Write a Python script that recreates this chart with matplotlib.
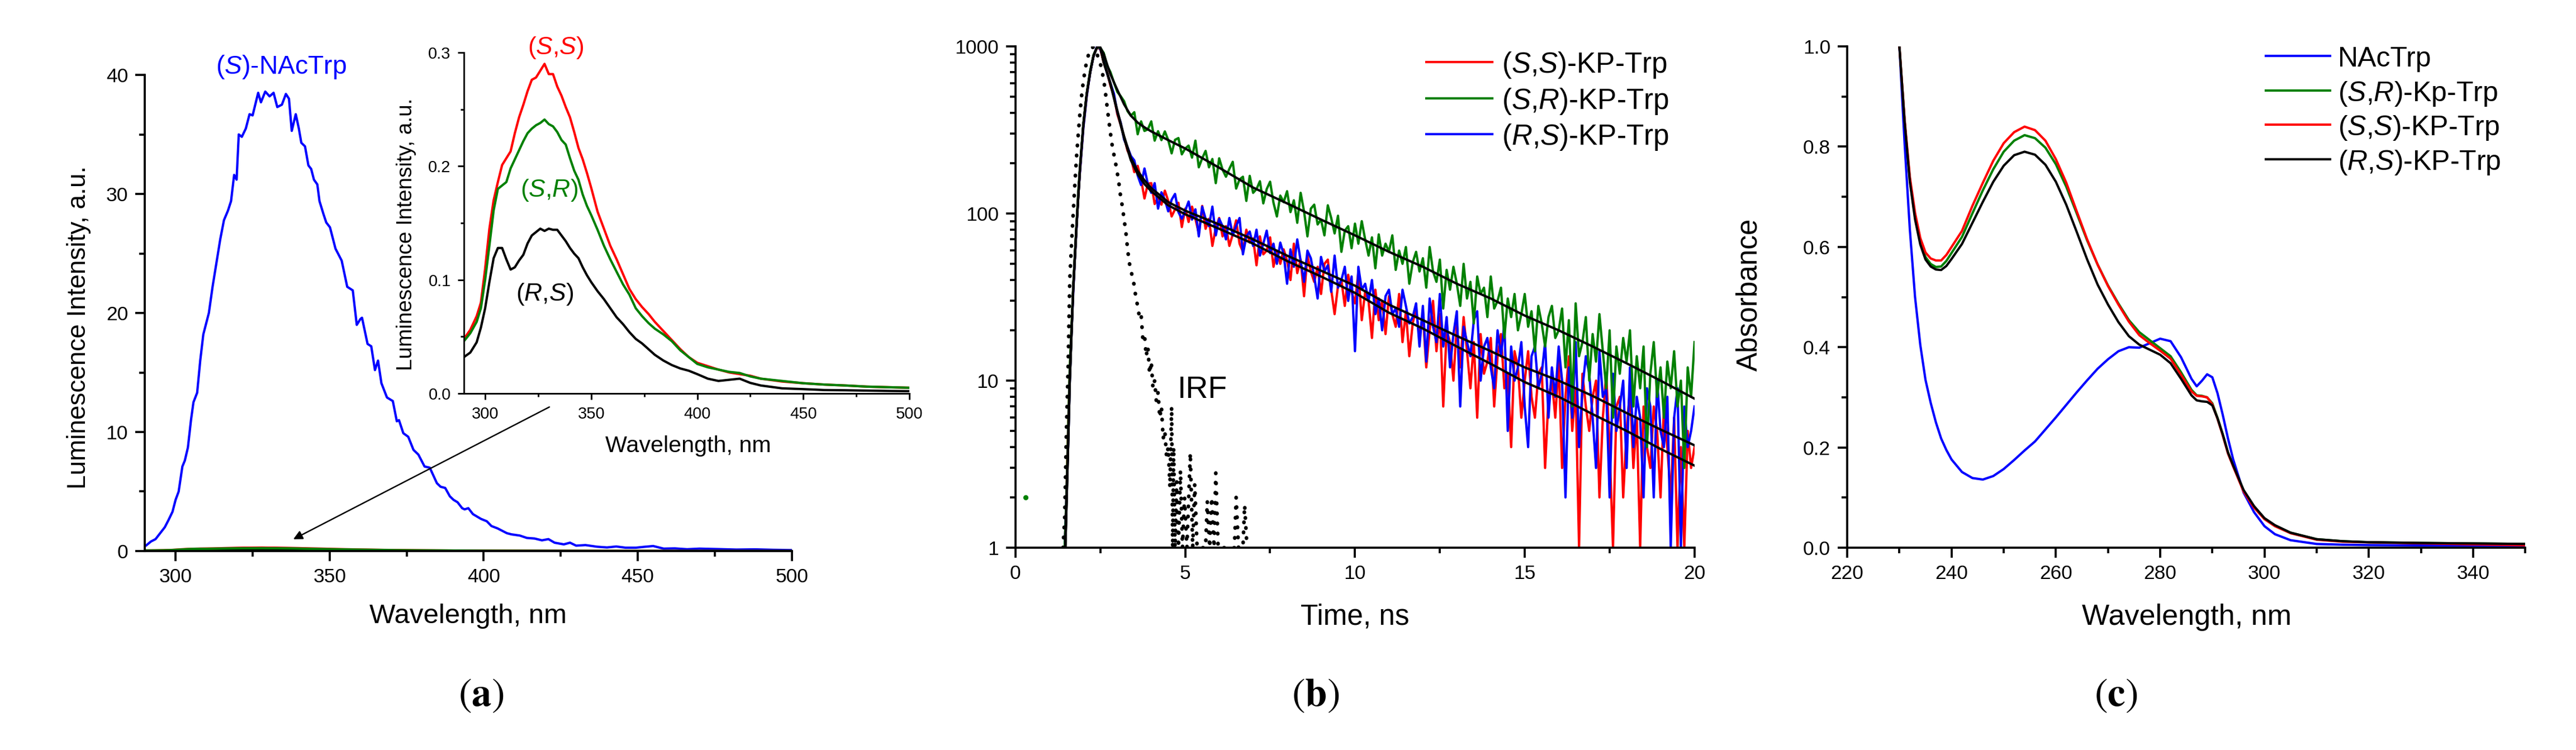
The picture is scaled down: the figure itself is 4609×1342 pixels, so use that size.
import matplotlib.pyplot as plt
import matplotlib.ticker as ticker
import numpy as np
from matplotlib.lines import Line2D

plt.rcParams['font.family'] = ['Liberation Sans', 'DejaVu Sans']
plt.rcParams['mathtext.fontset'] = 'custom'
plt.rcParams['mathtext.rm'] = 'Liberation Sans'
plt.rcParams['mathtext.it'] = 'Liberation Sans:italic'
plt.rcParams['mathtext.bf'] = 'Liberation Sans:bold'

BLUE = '#0000ff'
RED = '#ff0000'
GREEN = '#008000'
BLACK = '#000000'

# ---------------- (a) emission spectra ----------------
nactrp_wl = [290.5, 292, 293.5, 295, 296.5, 297.7, 299, 300, 301, 302.2, 303, 304, 305, 305.8, 307, 308, 309,
             310.8, 312, 313.5, 314.5, 315.7, 317, 318, 319, 319.8, 320.5, 321.5, 322.8, 324, 325, 326.8, 327.7,
             329.1, 330.5, 331.8, 333, 334.5, 335.8, 336.8, 337.7, 339, 340, 340.8, 342, 343.1, 344, 344.9, 346,
             346.7, 348, 348.9, 350.1, 351.9, 353.9, 355.7, 357.5, 358.8, 360, 360.5, 362.3, 363.5, 364.7, 365.7,
             366.8, 368.6, 370.5, 371.8, 372.5, 373.9, 375.5, 377.2, 378.8, 380.8, 382.5, 384.8, 386, 387.5, 389,
             390.2, 391.5, 393, 393.8, 395, 396.5, 399.1, 401, 402.5, 404.5, 406, 407.5, 409, 411.7, 414, 416.5,
             418.9, 421, 423, 426, 428, 430, 433, 436.8, 440, 443, 446, 449.4, 452, 455, 458.4, 462, 466, 470,
             476.3, 482, 488, 494, 499.7]
nactrp_int = [0.48, 0.8, 1.0, 1.5, 2.0, 2.6, 3.3, 4.3, 5.0, 7.1, 7.6, 8.7, 11.0, 12.5, 13.3, 16.0, 18.2,
              20.0, 22.2, 24.6, 26.2, 27.8, 28.6, 29.4, 31.6, 31.2, 35.0, 34.8, 35.5, 36.7, 36.6, 38.5, 37.7,
              38.6, 38.2, 38.5, 37.3, 37.5, 38.4, 38.0, 35.3, 36.7, 35.5, 34.3, 34.0, 32.4, 32.1, 31.2, 30.8,
              29.4, 28.3, 27.6, 27.2, 25.4, 24.4, 22.2, 21.9, 19.0, 19.5, 19.6, 17.4, 17.2, 15.2, 16.0,
              14.1, 12.9, 12.6, 10.9, 11.0, 9.9, 9.6, 8.5, 8.1, 7.1, 7.0, 5.7, 5.4, 5.3, 4.6,
              4.3, 4.1, 3.6, 3.5, 3.6, 3.1, 2.7, 2.5, 2.1, 1.9, 1.7, 1.5, 1.4, 1.3, 1.1, 1.05,
              0.9, 1.0, 0.7, 0.56, 0.7, 0.45, 0.5, 0.36, 0.3, 0.38, 0.28, 0.28, 0.35, 0.42, 0.2, 0.22, 0.15, 0.2,
              0.16, 0.12, 0.14, 0.1, 0.08]

inset_wl = [290, 293, 296, 298, 300, 302, 304, 306, 308, 310, 312, 314, 316, 318, 320, 322, 324, 326, 328, 330,
            332, 334, 336, 338, 340, 342, 344, 346, 348, 350, 353, 356, 359, 362, 365, 368, 371, 374, 377, 380,
            384, 388, 392, 396, 400, 405, 410, 415, 420, 425, 430, 440, 450, 460, 470, 480, 490, 500]
ss_int = [0.048, 0.056, 0.068, 0.080, 0.110, 0.145, 0.170, 0.186, 0.201, 0.207, 0.213, 0.229, 0.243, 0.254,
          0.266, 0.276, 0.278, 0.284, 0.290, 0.281, 0.281, 0.270, 0.262, 0.252, 0.243, 0.230, 0.216, 0.206,
          0.194, 0.181, 0.160, 0.145, 0.130, 0.118, 0.105, 0.092, 0.083, 0.076, 0.070, 0.063, 0.055, 0.047,
          0.039, 0.032, 0.027, 0.024, 0.021, 0.0185, 0.017, 0.0156, 0.013, 0.0105, 0.009, 0.0078, 0.007,
          0.006, 0.0055, 0.005]
sr_int = [0.046, 0.053, 0.063, 0.075, 0.100, 0.130, 0.161, 0.180, 0.183, 0.186, 0.198, 0.206, 0.214, 0.222,
          0.229, 0.233, 0.236, 0.238, 0.241, 0.237, 0.235, 0.230, 0.223, 0.219, 0.207, 0.196, 0.188, 0.175,
          0.165, 0.157, 0.144, 0.130, 0.118, 0.107, 0.096, 0.087, 0.075, 0.068, 0.062, 0.057, 0.052, 0.046,
          0.038, 0.032, 0.026, 0.023, 0.021, 0.019, 0.018, 0.015, 0.013, 0.011, 0.009, 0.0078, 0.007,
          0.006, 0.0055, 0.005]
rs_int = [0.032, 0.036, 0.045, 0.058, 0.075, 0.098, 0.119, 0.128, 0.128, 0.118, 0.109, 0.111, 0.117, 0.122,
          0.132, 0.139, 0.142, 0.145, 0.143, 0.145, 0.144, 0.144, 0.139, 0.134, 0.128, 0.123, 0.119, 0.111,
          0.104, 0.098, 0.090, 0.083, 0.075, 0.067, 0.061, 0.054, 0.048, 0.044, 0.039, 0.034, 0.029, 0.025,
          0.022, 0.020, 0.017, 0.013, 0.011, 0.012, 0.013, 0.0093, 0.007, 0.0045, 0.0038, 0.003, 0.0028,
          0.0025, 0.0022, 0.002]

# ---------------- (b) fluorescence decays ----------------
rise_t = [1.45, 1.5, 1.55, 1.6, 1.65, 1.7, 1.75, 1.8, 1.85, 1.9, 2.0, 2.1, 2.2, 2.3, 2.4, 2.5]
decay_t = np.round(np.arange(2.6, 20.05, 0.1), 1)   # 0.1 ns channels, 2.6 .. 20.0

ss_rise = [1, 2, 5, 11, 20, 34, 55, 84, 130, 180, 330, 510, 700, 880, 990, 960]
ss_decay = [800, 700, 581, 505,
            393, 340, 286, 238, 217, 177, 193, 160, 123, 151,
            152, 114, 125, 113, 137, 119, 96, 106, 116, 83,
            107, 89, 110, 93, 76, 111, 81, 93, 64, 82,
            94, 73, 84, 64, 75, 91, 66, 59, 80, 67,
            71, 49, 73, 57, 60, 72, 48, 60, 50, 61,
            52, 40, 66, 44, 53, 32, 56, 45, 39, 48,
            33, 50, 53, 35, 25, 37, 40, 28, 43, 34,
            29, 45, 23, 34, 30, 18, 35, 23, 30, 19,
            32, 25, 21, 33, 17, 26, 14, 22, 27, 18,
            25, 12, 20, 30, 15, 25, 7, 20, 17, 10,
            22, 12, 24, 15, 9, 17, 6, 19, 11, 13,
            18, 7, 14, 19, 9, 11, 4, 15, 12, 6,
            10, 15, 8, 6, 11, 12, 3, 8, 10, 6,
            13, 3, 8, 14, 5, 9, 1, 11, 7, 5,
            8, 10, 2, 6, 11, 4, 1, 7, 8, 2,
            5, 9, 3, 6, 1, 7, 4, 3, 7, 5,
            2, 7, 4, 2, 6, 1, 4, 1, 5, 3,
            4]

sr_rise = [1, 2, 5, 12, 21, 36, 57, 88, 135, 190, 345, 525, 715, 890, 985, 980]
sr_decay = [914, 768, 700, 610,
            534, 504, 470, 410, 385, 404, 298, 356, 312, 319,
            356, 273, 311, 275, 310, 275, 229, 276, 283, 226,
            245, 255, 216, 273, 189, 214, 237, 189, 212, 152,
            214, 183, 166, 185, 204, 141, 160, 166, 119, 168,
            133, 140, 156, 115, 140, 155, 116, 96, 128, 117,
            136, 102, 120, 88, 133, 103, 73, 107, 113, 86,
            92, 74, 112, 94, 76, 97, 59, 79, 84, 62,
            87, 66, 90, 70, 56, 72, 47, 75, 56, 66,
            59, 74, 46, 60, 50, 63, 38, 51, 59, 45,
            54, 36, 63, 45, 39, 53, 27, 46, 35, 48,
            38, 28, 50, 31, 39, 22, 42, 33, 36, 24,
            42, 27, 30, 36, 18, 31, 24, 33, 20, 25,
            33, 21, 26, 15, 28, 22, 16, 24, 28, 18,
            20, 27, 12, 23, 7, 29, 14, 17, 24, 10,
            19, 13, 25, 15, 9, 20, 6, 16, 11, 18,
            13, 20, 7, 14, 9, 16, 4, 11, 17, 8,
            12, 6, 13, 9, 15, 7, 10, 3, 12, 8,
            17]

rs_rise = [1, 2, 4, 10, 19, 33, 54, 82, 128, 178, 325, 505, 695, 875, 1000, 965]
rs_decay = [824, 690, 600, 522,
            402, 350, 277, 250, 221, 208, 169, 148, 186, 150,
            133, 152, 107, 134, 121, 103, 121, 131, 102, 93,
            104, 118, 92, 106, 73, 110, 93, 84, 110, 74,
            93, 84, 70, 94, 74, 84, 94, 57, 73, 78,
            64, 80, 56, 66, 79, 58, 66, 50, 67, 57,
            38, 61, 48, 70, 52, 39, 60, 54, 42, 31,
            55, 45, 49, 34, 56, 36, 40, 48, 30, 42,
            15, 48, 35, 38, 30, 40, 25, 31, 20, 32,
            35, 25, 27, 21, 35, 28, 22, 24, 29, 16,
            28, 13, 31, 21, 17, 33, 16, 24, 12, 19,
            26, 7, 21, 17, 14, 23, 26, 10, 16, 18,
            12, 9, 20, 14, 22, 5, 16, 10, 12, 17,
            7, 4, 14, 16, 9, 11, 17, 6, 12, 8,
            16, 10, 2, 12, 6, 17, 4, 9, 14, 11,
            6, 3, 15, 8, 9, 2, 11, 5, 7, 10,
            3, 12, 4, 8, 6, 2, 9, 7, 2, 10,
            5, 4, 8, 1, 6, 9, 1, 7, 4, 5,
            7]

fit_t = [1.47, 1.55, 1.6, 1.7, 1.8, 1.9, 2.0, 2.1, 2.2, 2.3, 2.4, 2.45, 2.5, 2.6, 2.7, 2.8, 2.9, 3.0, 3.2, 3.4,
         3.6, 3.8, 4.0, 4.5, 5.0, 6.0, 7.0, 8.0, 9.0, 10.0, 11.0, 12.0, 13.0, 14.0, 15.0, 16.0, 17.0, 18.0,
         19.0, 20.0]
fit_ss = [1, 4, 10, 35, 85, 185, 340, 520, 700, 880, 985, 1000, 985, 800, 690, 590, 490, 405, 282, 208,
          172, 150, 136, 112, 99, 81, 66, 52, 42, 33.5, 25.5, 20.5, 16, 12.6, 9.8, 8.0, 6.3, 5.0, 3.9, 3.1]
fit_sr = [1, 4, 10, 35, 85, 185, 340, 520, 700, 880, 985, 1000, 985, 900, 780, 680, 610, 550, 450, 385,
          350, 328, 310, 275, 245, 188, 143, 115, 92, 74, 59, 48, 38, 31, 24.5, 20, 16, 12.7, 10, 7.8]
fit_rs = [1, 4, 10, 35, 85, 185, 340, 520, 700, 880, 985, 1000, 985, 800, 700, 600, 500, 414, 290, 215,
          180, 158, 142, 117, 104, 86, 70, 56, 45.5, 37, 28.5, 23, 18.5, 15, 12, 10, 8.1, 6.4, 5.1, 4.1]

irf_t = [1.40, 1.45, 1.50, 1.55, 1.60, 1.65, 1.70, 1.75, 1.80, 1.85, 1.90, 1.95, 2.00, 2.05, 2.10, 2.15,
         2.20, 2.25, 2.30, 2.35, 2.40, 2.45, 2.50, 2.55, 2.60, 2.65, 2.70, 2.75, 2.80, 2.85, 2.90, 2.95,
         3.00, 3.05, 3.10, 3.15, 3.20, 3.25, 3.30, 3.35, 3.40, 3.45, 3.50, 3.55, 3.60, 3.65, 3.70, 3.75,
         3.80, 3.85, 3.90, 3.95, 4.00, 4.05, 4.10, 4.15, 4.20, 4.25, 4.30, 4.35, 4.40, 4.45, 4.50, 4.55,
         4.60, 4.63, 4.66, 4.70, 4.75, 4.80, 4.86, 4.92, 4.98, 5.05, 5.15, 5.22, 5.28, 5.35, 5.60, 5.65,
         5.72, 5.78, 5.85, 5.90, 5.97, 6.45, 6.50, 6.57, 6.70, 6.75, 6.82]
irf_counts = [1, 1.5, 5, 12, 40, 65, 100, 150, 220, 300, 400, 510, 620, 720, 820, 890,
              950, 985, 990, 960, 900, 850, 790, 710, 630, 530, 435, 360, 300, 255, 225, 200,
              175, 150, 125, 110, 92, 78, 62, 51, 46, 41, 37, 31, 28, 24, 25, 18,
              19, 14, 16, 11, 13, 9, 10, 7.5, 8.5, 6, 7, 4.5, 5, 3.5, 4, 2.3,
              7, 1, 4, 1, 2.5, 1, 2.9, 1, 2, 1, 3.7, 1, 2.4, 1, 1, 1.9,
              1, 2, 1, 2.8, 1, 1, 2, 1, 1, 1.8, 1]

stray_t = [0.3]
stray_counts = [2]

labels_b = [r'($\mathit{S}$,$\mathit{S}$)-KP-Trp', r'($\mathit{S}$,$\mathit{R}$)-KP-Trp',
            r'($\mathit{R}$,$\mathit{S}$)-KP-Trp']

# ---------------- (c) absorption spectra ----------------
abs_wl = [230, 231, 232, 233, 234, 235, 236, 237, 238, 239, 240, 242, 244, 246, 248, 250, 252, 254, 256, 258,
          260, 262, 264, 266, 268, 270, 272, 274, 276, 278, 280, 282, 284, 286, 287, 288, 289, 290, 291, 292,
          293, 294, 296, 298, 300, 302, 305, 310, 315, 320, 330, 340, 350]
abs_nactrp = [1.0, 0.806, 0.635, 0.50, 0.405, 0.335, 0.289, 0.250, 0.218, 0.195, 0.176, 0.151, 0.139, 0.136,
              0.143, 0.157, 0.175, 0.194, 0.212, 0.236, 0.260, 0.285, 0.310, 0.334, 0.357, 0.376, 0.392, 0.400,
              0.399, 0.408, 0.417, 0.412, 0.380, 0.337, 0.322, 0.333, 0.346, 0.340, 0.308, 0.265, 0.218, 0.176,
              0.110, 0.071, 0.043, 0.027, 0.015, 0.0075, 0.006, 0.0052, 0.0046, 0.0043, 0.004]
abs_sr = [1.0, 0.85, 0.735, 0.66, 0.61, 0.58, 0.566, 0.560, 0.561, 0.572, 0.588, 0.620, 0.667, 0.713, 0.755,
          0.790, 0.812, 0.823, 0.817, 0.798, 0.765, 0.720, 0.667, 0.613, 0.565, 0.523, 0.487, 0.454, 0.430,
          0.414, 0.398, 0.382, 0.350, 0.315, 0.304, 0.303, 0.300, 0.288, 0.259, 0.226, 0.190, 0.163, 0.114,
          0.082, 0.058, 0.044, 0.030, 0.017, 0.013, 0.011, 0.0095, 0.0085, 0.0075]
abs_ss = [1.0, 0.854, 0.74, 0.668, 0.618, 0.589, 0.577, 0.573, 0.573, 0.584, 0.600, 0.632, 0.682, 0.728, 0.772,
          0.807, 0.829, 0.840, 0.833, 0.812, 0.775, 0.728, 0.671, 0.615, 0.565, 0.522, 0.485, 0.451, 0.424,
          0.408, 0.393, 0.377, 0.345, 0.312, 0.303, 0.302, 0.300, 0.286, 0.257, 0.224, 0.188, 0.162, 0.112,
          0.080, 0.057, 0.043, 0.029, 0.016, 0.012, 0.0108, 0.0088, 0.0068, 0.005]
abs_rs = [1.0, 0.85, 0.73, 0.655, 0.605, 0.575, 0.561, 0.555, 0.554, 0.562, 0.576, 0.606, 0.648, 0.690, 0.730,
          0.762, 0.783, 0.790, 0.784, 0.764, 0.730, 0.684, 0.630, 0.575, 0.525, 0.485, 0.450, 0.422, 0.405,
          0.395, 0.385, 0.368, 0.337, 0.304, 0.294, 0.292, 0.291, 0.284, 0.258, 0.226, 0.190, 0.164, 0.115,
          0.083, 0.059, 0.045, 0.030, 0.017, 0.013, 0.011, 0.0095, 0.0085, 0.0075]
labels_c = ['NAcTrp', r'($\mathit{S}$,$\mathit{R}$)-Kp-Trp', r'($\mathit{S}$,$\mathit{S}$)-KP-Trp',
            r'($\mathit{R}$,$\mathit{S}$)-KP-Trp']

W, H, DPI = 4609, 1342, 300


def style_axes(ax, labelsize=8.5, major_len=4.2, minor_len=2.3, lw=0.9):
    for side in ('top', 'right'):
        ax.spines[side].set_visible(False)
    for side in ('left', 'bottom'):
        ax.spines[side].set_linewidth(lw)
    ax.tick_params(which='both', direction='out', width=lw, labelsize=labelsize)
    ax.tick_params(which='major', length=major_len, pad=3)
    ax.tick_params(which='minor', length=minor_len)


def manual_legend(fig, x0_px, x1_px, xt_px, rows_px, colors, labels, size):
    # Origin-style legend: short line, label with its caps centred on the line
    em = size / 72 * DPI / H
    for y_px, col, lab in zip(rows_px, colors, labels):
        y = 1 - y_px / H
        fig.add_artist(Line2D([x0_px / W, x1_px / W], [y, y], transform=fig.transFigure, color=col, lw=1.0))
        fig.text(xt_px / W, y - 0.38 * em, lab, fontsize=size, ha='left', va='baseline')


fig = plt.figure(figsize=(W / DPI, H / DPI), dpi=DPI)

# ---- panel (a)
ax_a = fig.add_axes([0.0562, 0.2653, 0.2512, 0.6348])
ax_a.plot(nactrp_wl, nactrp_int, color=BLUE, lw=1.0)
ax_a.plot(inset_wl, rs_int, color=BLACK, lw=1.0)
ax_a.plot(inset_wl, ss_int, color=RED, lw=1.0)
ax_a.plot(inset_wl, sr_int, color=GREEN, lw=1.0)
ax_a.set_xlim(290, 500)
ax_a.set_ylim(0, 40)
ax_a.xaxis.set_major_locator(ticker.MultipleLocator(50))
ax_a.xaxis.set_minor_locator(ticker.MultipleLocator(25))
ax_a.yaxis.set_major_locator(ticker.MultipleLocator(10))
ax_a.yaxis.set_minor_locator(ticker.MultipleLocator(5))
style_axes(ax_a)
ax_a.set_xlabel('Wavelength, nm', fontsize=11.8)
ax_a.xaxis.set_label_coords(0.5, -0.110)
ax_a.set_ylabel('Luminescence Intensity, a.u.', fontsize=11)
ax_a.yaxis.set_label_coords(-0.083, 0.47)
ax_a.text(334.2, 40.66, r'($\mathit{S}$)-NAcTrp', color=BLUE, fontsize=11.1, ha='center', va='center')
ax_a.annotate('', xy=(338.2, 0.99), xytext=(421.3, 12.1),
              arrowprops=dict(arrowstyle='-|>', lw=0.6, color='black', mutation_scale=8,
                              shrinkA=0, shrinkB=0))

ax_in = fig.add_axes([0.1801, 0.4754, 0.1729, 0.4546])
ax_in.patch.set_alpha(0)
ax_in.plot(inset_wl, ss_int, color=RED, lw=1.0)
ax_in.plot(inset_wl, sr_int, color=GREEN, lw=1.0)
ax_in.plot(inset_wl, rs_int, color=BLACK, lw=1.0)
ax_in.set_xlim(290, 500)
ax_in.set_ylim(0, 0.3)
ax_in.xaxis.set_major_locator(ticker.MultipleLocator(50))
ax_in.xaxis.set_minor_locator(ticker.MultipleLocator(25))
ax_in.yaxis.set_major_locator(ticker.MultipleLocator(0.1))
ax_in.yaxis.set_minor_locator(ticker.MultipleLocator(0.05))
style_axes(ax_in, labelsize=7, major_len=2.6, minor_len=1.5, lw=0.7)
ax_in.set_xlabel('Wavelength, nm', fontsize=9.9)
ax_in.xaxis.set_label_coords(0.503, -0.123)
ax_in.set_ylabel('Luminescence Intensity, a.u.', fontsize=9.3)
ax_in.yaxis.set_label_coords(-0.107, 0.466)
ax_in.text(333.3, 0.304, r'($\mathit{S}$,$\mathit{S}$)', color=RED, fontsize=10.7, ha='center', va='center')
ax_in.text(330.1, 0.179, r'($\mathit{S}$,$\mathit{R}$)', color=GREEN, fontsize=10.7, ha='center', va='center')
ax_in.text(328.1, 0.0872, r'($\mathit{R}$,$\mathit{S}$)', color=BLACK, fontsize=10.7, ha='center', va='center')

# ---- panel (b)
ax_b = fig.add_axes([0.3942, 0.2697, 0.2636, 0.6684])
t_all = np.concatenate([rise_t, decay_t])
ax_b.plot(t_all, ss_rise + ss_decay, color=RED, lw=1.0)
ax_b.plot(t_all, rs_rise + rs_decay, color=BLUE, lw=1.0)
ax_b.plot(t_all, sr_rise + sr_decay, color=GREEN, lw=1.0)
ax_b.plot(fit_t, fit_ss, color=BLACK, lw=1.0)
ax_b.plot(fit_t, fit_rs, color=BLACK, lw=1.0)
ax_b.plot(fit_t, fit_sr, color=BLACK, lw=1.0)
ax_b.plot(irf_t, irf_counts, color=BLACK, lw=1.6, ls=(0, (0.1, 2.6)), dash_capstyle='round')
ax_b.plot(stray_t, stray_counts, ls='none', marker='o', ms=1.2, color=GREEN)
ax_b.set_yscale('log')
ax_b.set_xlim(0, 20)
ax_b.set_ylim(1, 1000)
ax_b.xaxis.set_major_locator(ticker.MultipleLocator(5))
ax_b.xaxis.set_minor_locator(ticker.MultipleLocator(2.5))
ax_b.yaxis.set_major_locator(ticker.LogLocator(base=10))
ax_b.yaxis.set_minor_locator(ticker.LogLocator(base=10, subs=np.arange(2, 10)))
ax_b.yaxis.set_major_formatter(ticker.FuncFormatter(lambda v, p: f'{v:g}'))
ax_b.yaxis.set_minor_formatter(ticker.NullFormatter())
style_axes(ax_b)
ax_b.set_xlabel('Time, ns', fontsize=12.3)
ax_b.xaxis.set_label_coords(0.5, -0.111)
ax_b.text(5.5, 8.8, 'IRF', fontsize=13.3, ha='center', va='center')
manual_legend(fig, 2552, 2670, 2687, [111, 175.5, 240], [RED, GREEN, BLUE], labels_b, 12.3)

# ---- panel (c)
ax_c = fig.add_axes([0.7171, 0.2697, 0.2632, 0.6684])
ax_c.plot(abs_wl, abs_nactrp, color=BLUE, lw=1.0)
ax_c.plot(abs_wl, abs_sr, color=GREEN, lw=1.0)
ax_c.plot(abs_wl, abs_ss, color=RED, lw=1.0)
ax_c.plot(abs_wl, abs_rs, color=BLACK, lw=1.0)
ax_c.set_xlim(220, 350)
ax_c.set_ylim(0, 1.0)
ax_c.xaxis.set_major_locator(ticker.MultipleLocator(20))
ax_c.xaxis.set_minor_locator(ticker.MultipleLocator(10))
ax_c.yaxis.set_major_locator(ticker.MultipleLocator(0.2))
ax_c.yaxis.set_minor_locator(ticker.MultipleLocator(0.1))
style_axes(ax_c)
ax_c.set_xlabel('Wavelength, nm', fontsize=12.5)
ax_c.xaxis.set_label_coords(0.501, -0.111)
ax_c.set_ylabel('Absorbance', fontsize=12.3)
ax_c.yaxis.set_label_coords(-0.124, 0.505)
manual_legend(fig, 4054, 4169, 4183, [100, 162, 223, 285], [BLUE, GREEN, RED, BLACK], labels_c, 12)

# panel letters
for x, letter in [(0.1868, 'a'), (0.5107, 'b'), (0.8214, 'c')]:
    fig.text(x, 0.0723, r'$(\mathbf{' + letter + r'})$', fontsize=17, ha='center', va='center',
             math_fontfamily='stix')

fig.savefig('out.png', dpi=DPI)
